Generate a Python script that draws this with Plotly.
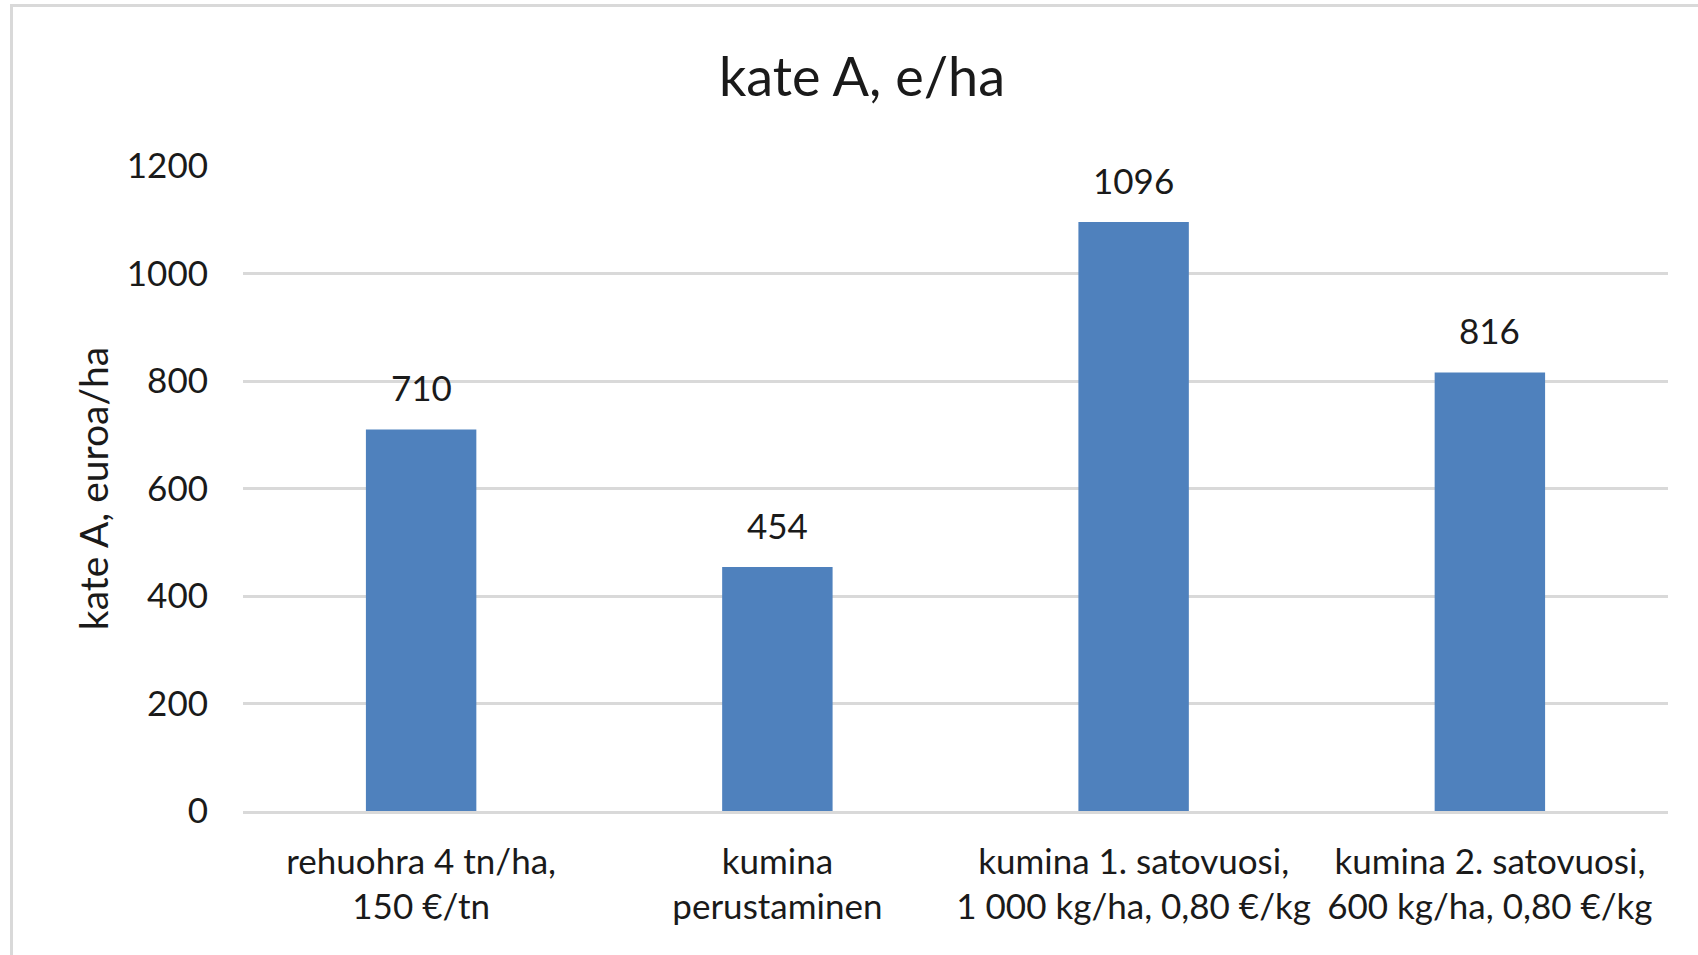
import plotly.graph_objects as go

categories = [
    "rehuohra 4 tn/ha,<br>150 €/tn",
    "kumina<br>perustaminen",
    "kumina 1. satovuosi,<br>1 000 kg/ha, 0,80 €/kg",
    "kumina 2. satovuosi,<br>600 kg/ha, 0,80 €/kg",
]
values = [710, 454, 1096, 816]
y_ticks = [0, 200, 400, 600, 800, 1000, 1200]

W, H = 1698, 955
L, R, T, B = 243, 30, 166, 144
FONT = "Lato"
TXT = "#1a1a1a"

fig = go.Figure()
fig.add_trace(go.Bar(
    x=categories, y=values,
    marker=dict(color="#4F81BD", line=dict(width=0)),
    hoverinfo="skip",
))

for c, v in zip(categories, values):
    fig.add_annotation(x=c, y=v, text=str(v), showarrow=False,
                       yanchor="bottom", yshift=19,
                       font=dict(family=FONT, size=35, color=TXT))

pw = W - L - R
ph = H - T - B
def px_x(px):
    return (px - L) / pw
def px_y(py):
    return 1 - (py - T) / ph

# outer chart border (left and top visible)
fig.add_shape(type="line", xref="paper", yref="paper",
              x0=px_x(11.5), x1=px_x(11.5), y0=px_y(5.5), y1=px_y(960),
              line=dict(color="#d9d9d9", width=3))
fig.add_shape(type="line", xref="paper", yref="paper",
              x0=px_x(10), x1=px_x(1700), y0=px_y(5.5), y1=px_y(5.5),
              line=dict(color="#d9d9d9", width=3))

fig.update_layout(
    width=W, height=H,
    margin=dict(l=L, r=R, t=T, b=B, autoexpand=False),
    paper_bgcolor="white", plot_bgcolor="white",
    bargap=0.69,
    showlegend=False,
    title=dict(text="kate A, e/ha", x=862 / W, xanchor="center",
               y=1 - 77 / H, yanchor="middle", yref="container",
               font=dict(family=FONT, size=54, color=TXT)),
    font=dict(family=FONT, color=TXT),
)
fig.update_xaxes(
    showgrid=False, showline=True, linecolor="#d9d9d9", linewidth=2.5,
    ticks="", tickangle=0, ticklabelstandoff=18,
    tickfont=dict(family=FONT, size=35, color=TXT),
    fixedrange=True,
)
fig.update_yaxes(
    range=[0, 1200], tickvals=y_ticks, showgrid=True,
    gridcolor="#d9d9d9", gridwidth=2.5, zeroline=False,
    showline=False, ticks="", ticklabelstandoff=34,
    tickfont=dict(family=FONT, size=35, color=TXT),
    title=dict(text="kate A, euroa/ha", standoff=6,
               font=dict(family=FONT, size=39, color=TXT)),
    fixedrange=True,
)

fig.write_html("out.html", config={"displayModeBar": False},
               post_script="document.body.style.margin='0px';"
                           "document.body.style.overflow='hidden';")
